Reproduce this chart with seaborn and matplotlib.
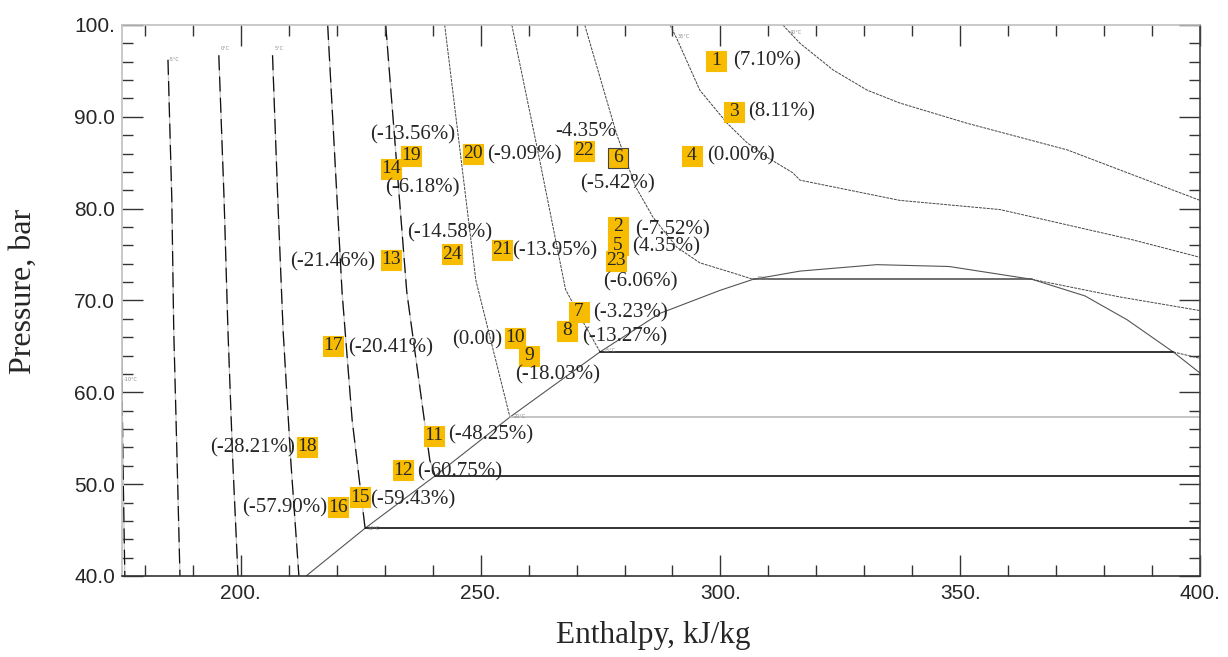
import numpy as np
import matplotlib
matplotlib.use("Agg")
import matplotlib.pyplot as plt
import seaborn as sns

# Изотермы, жидкая область (h, кДж/кг ; P, бар)
iso_m10_h = [175.1, 175.4, 175.8]
iso_m10_p = [66.0, 53.0, 40.0]
iso_m5_h = [184.8, 185.6, 186.0, 186.7, 187.3]
iso_m5_p = [96.2, 81.0, 66.8, 52.6, 40.0]
iso_0_h = [195.4, 196.5, 197.3, 198.3, 199.4]
iso_0_p = [96.7, 81.0, 66.8, 52.6, 40.0]
iso_5_h = [206.6, 207.7, 208.8, 210.4, 212.1]
iso_5_p = [96.7, 81.0, 66.8, 52.6, 40.0]
iso_10_h = [218.1, 221.1, 223.2, 225.9]
iso_10_p = [100.0, 70.9, 57.0, 45.2]
iso_15_h = [230.2, 234.6, 239.4, 240.5]
iso_15_p = [100.0, 70.9, 52.6, 50.9]
iso_20_h = [242.5, 249.0, 256.1]
iso_20_p = [100.0, 72.2, 57.3]
iso_25_h = [256.5, 262.3, 267.7, 271.1, 274.9]
iso_25_p = [100.0, 85.3, 71.2, 67.9, 64.4]
iso_30_h = [271.7, 278.3, 282.3, 285.9, 290.9, 295.7, 302.6, 306.8]
iso_30_p = [100.0, 88.2, 82.4, 79.1, 75.8, 74.1, 73.0, 72.3]

# Изотермы, паровая / сверхкритическая область
iso_25v_h = [394.4, 400.0]
iso_25v_p = [64.4, 63.7]
iso_30v_h = [365.0, 383.1, 400.0]
iso_30v_p = [72.3, 70.4, 68.9]
iso_35_h = [289.5, 291.0, 295.7, 301.4, 305.5, 309.7, 315.1, 316.6, 337.4, 358.3, 386.0, 400.0]
iso_35_p = [100.0, 98.4, 92.9, 89.3, 87.2, 85.6, 83.9, 83.1, 80.9, 79.9, 76.6, 74.7]
iso_40_h = [313.0, 316.6, 323.5, 330.6, 337.4, 351.4, 372.3, 400.0]
iso_40_p = [100.0, 98.0, 95.1, 92.9, 91.5, 89.3, 86.4, 80.9]

# Двухфазная область: давление насыщения и границы по энтальпии
sat_p = [45.2, 50.9, 57.3, 64.4, 72.3]
sat_h_liq = [225.9, 240.5, 256.1, 274.9, 306.8]
sat_h_vap = [400.0, 400.0, 400.0, 394.4, 365.0]
sat_colors = ["#111111", "#111111", "#bbbbbb", "#111111", "#555555"]

# Пограничная кривая
dome_h = [213.6, 225.9, 240.5, 256.1, 274.9, 287.4, 299.9, 306.8, 316.6, 332.6,
          347.7, 365.0, 376.0, 384.8, 394.4, 400.0]
dome_p = [40.0, 45.2, 50.9, 57.3, 64.4, 68.6, 71.1, 72.3, 73.2, 73.9,
          73.7, 72.3, 70.5, 67.9, 64.4, 62.1]

# Режимные точки
pt_id = ["1", "3", "4", "6", "22", "20", "19", "14", "2", "5", "23", "21",
         "24", "13", "7", "8", "10", "9", "17", "11", "12", "18", "15", "16"]
pt_h = [299.06, 302.82, 294.06, 278.62, 271.53, 248.38, 235.45, 231.28, 278.62,
        278.62, 278.21, 254.43, 244.00, 231.28, 270.49, 267.99, 257.14, 260.06,
        219.19, 240.25, 233.78, 213.76, 224.82, 220.23]
pt_p = [96.08, 90.53, 85.74, 85.52, 86.28, 85.95, 85.74, 84.32, 78.01, 76.04,
        74.30, 75.50, 75.06, 74.41, 68.75, 66.68, 65.92, 63.96, 65.05, 55.25,
        51.54, 54.05, 48.60, 47.51]
pt_label = ["(7.10%)", "(8.11%)", "(0.00%)", "(-5.42%)", "-4.35%", "(-9.09%)",
            "(-13.56%)", "(-6.18%)", "(-7.52%)", "(4.35%)", "(-6.06%)", "(-13.95%)",
            "(-14.58%)", "(-21.46%)", "(-3.23%)", "(-13.27%)", "(0.00)", "(-18.03%)",
            "(-20.41%)", "(-48.25%)", "(-60.75%)", "(-28.21%)", "(-59.43%)", "(-57.90%)"]
# смещение подписи в пикселях и выравнивание
lab_dx = [17, 14, 15, 0, 2, 14, 2, 31, 17, 14, 24, 10, -2, -16, 14, 15, -13, 29, 15, 14, 14, -12, 10, -11]
lab_dy = [0, 0, 0, -26, 19, -1, 21, -19, -3, -2, -21, -1, 21, -2, -1, -6, -2, -19, -2, 1, -2, -1, -3, -1]
lab_ha = ["left", "left", "left", "center", "center", "left", "center", "center", "left",
          "left", "center", "left", "center", "right", "left", "left", "right", "center",
          "left", "left", "left", "right", "left", "right"]

iso_labels = ["-10°C", "-5°C", "0°C", "5°C", "10°C", "20°C", "25°C", "30°C", "35°C", "40°C"]
iso_label_h = [175.6, 185.0, 195.8, 207.0, 226.5, 256.8, 275.7, 307.5, 291.0, 314.5]
iso_label_p = [61.4, 96.2, 97.4, 97.4, 45.2, 57.4, 64.5, 72.4, 98.7, 99.2]

sns.set_style("ticks")
plt.rcParams["font.family"] = ["Liberation Serif", "DejaVu Serif"]

fig = plt.figure(figsize=(12.28, 6.57), dpi=100)
ax = fig.add_axes([0.0993, 0.1233, 0.8779, 0.8387])

liq = [(iso_m10_h, iso_m10_p), (iso_m5_h, iso_m5_p), (iso_0_h, iso_0_p), (iso_5_h, iso_5_p),
       (iso_10_h, iso_10_p), (iso_15_h, iso_15_p)]
for hh, pp in liq:
    sns.lineplot(x=hh, y=pp, sort=False, estimator=None, ax=ax, color="#c8c8c8", lw=0.9)
    sns.lineplot(x=hh, y=pp, sort=False, estimator=None, ax=ax, color="#111111", lw=0.9)
    ax.lines[-1].set_dashes([12, 5])

thin = [(iso_20_h, iso_20_p), (iso_25_h, iso_25_p), (iso_30_h, iso_30_p),
        (iso_25v_h, iso_25v_p), (iso_30v_h, iso_30v_p), (iso_35_h, iso_35_p), (iso_40_h, iso_40_p)]
for hh, pp in thin:
    sns.lineplot(x=hh, y=pp, sort=False, estimator=None, ax=ax, color="#444444", lw=0.7)
    ax.lines[-1].set_dashes([3, 1])

sns.lineplot(x=dome_h, y=dome_p, sort=False, estimator=None, ax=ax, color="#555555", lw=0.8)

for p, h1, h2, c in zip(sat_p, sat_h_liq, sat_h_vap, sat_colors):
    sns.lineplot(x=[h1, h2], y=[p, p], sort=False, estimator=None, ax=ax, color=c, lw=1.2)

for t, h, p in zip(iso_labels, iso_label_h, iso_label_p):
    ax.text(h, p, t, fontsize=3.5, color="#888888", family=["DejaVu Sans"], va="center")

# жёлтые маркеры точек
edge = ["#444444" if i == "6" else "#F7BB00" for i in pt_id]
sns.scatterplot(x=pt_h, y=pt_p, marker="s", s=200, color="#F7BB00", edgecolor=edge,
                linewidth=0.8, ax=ax, zorder=4, legend=False)

for i in range(len(pt_id)):
    ax.text(pt_h[i], pt_p[i], pt_id[i], fontsize=14, ha="center", va="center", zorder=5)
    ax.annotate(pt_label[i], xy=(pt_h[i], pt_p[i]), xytext=(lab_dx[i], lab_dy[i]),
                textcoords="offset pixels", fontsize=15, ha=lab_ha[i], va="center", zorder=6)

ax.set_xlim(175.2, 400)
ax.set_ylim(40, 100)
ax.set_xticks([200, 250, 300, 350, 400])
ax.set_xticklabels(["200.", "250.", "300.", "350.", "400."])
ax.set_xticks(np.arange(180, 400, 10), minor=True)
ax.set_yticks([40, 50, 60, 70, 80, 90, 100])
ax.set_yticklabels(["40.0", "50.0", "60.0", "70.0", "80.0", "90.0", "100."])
ax.set_yticks(np.arange(42, 100, 2), minor=True)

for lab in ax.get_xticklabels() + ax.get_yticklabels():
    lab.set_family(["Liberation Sans", "DejaVu Sans"])
    lab.set_fontsize(15)

ax.tick_params(which="both", direction="in", top=True, right=True, color="#333333", width=1)
ax.tick_params(which="major", length=15)
ax.tick_params(which="minor", length=8)
ax.tick_params(axis="x", pad=6)
ax.tick_params(axis="y", pad=5)

ax.spines["top"].set_color("#c0c0c0")
ax.spines["left"].set_color("#c0c0c0")
ax.spines["right"].set_color("#444444")
ax.spines["bottom"].set_color("#333333")
for s in ax.spines.values():
    s.set_linewidth(1.2)

ax.set_xlabel("Enthalpy, kJ/kg", fontsize=22.5)
ax.set_ylabel("Pressure, bar", fontsize=23)
ax.xaxis.set_label_coords(0.4926, -0.081)
ax.yaxis.set_label_coords(-0.078, 0.517)

fig.savefig("out.png", dpi=100)
